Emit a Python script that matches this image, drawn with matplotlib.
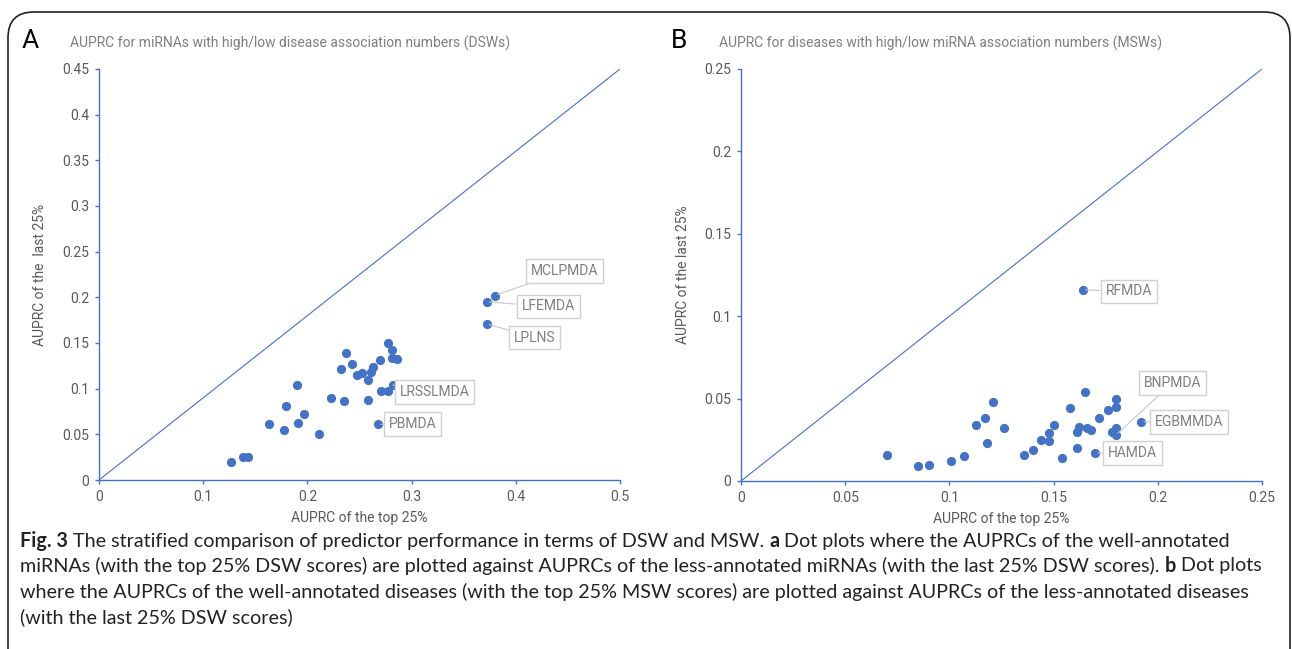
import matplotlib
matplotlib.use("Agg")
import matplotlib.pyplot as plt
from matplotlib import font_manager
from matplotlib.patches import FancyBboxPatch

plt.rcParams['font.family'] = ['Roboto', 'DejaVu Sans']

# Panel A: AUPRC of miRNAs, top 25% vs last 25% DSW
a_top = [0.127, 0.138, 0.143, 0.163, 0.178, 0.179, 0.190, 0.191, 0.197, 0.211,
         0.223, 0.232, 0.237, 0.235, 0.243, 0.248, 0.252, 0.258, 0.261, 0.263,
         0.258, 0.270, 0.277, 0.281, 0.281, 0.286, 0.271, 0.277,
         0.282, 0.268, 0.380, 0.372, 0.372]
a_last = [0.020, 0.025, 0.025, 0.061, 0.055, 0.081, 0.104, 0.062, 0.072, 0.050,
          0.090, 0.121, 0.139, 0.087, 0.127, 0.115, 0.117, 0.109, 0.118, 0.124,
          0.088, 0.131, 0.150, 0.142, 0.134, 0.132, 0.097, 0.097,
          0.104, 0.061, 0.202, 0.195, 0.171]
a_names = [""] * 28 + ["LRSSLMDA", "PBMDA", "MCLPMDA", "LFEMDA", "LPLNS"]

# Panel B: AUPRC of diseases, top 25% vs last 25% MSW
b_top = [0.070, 0.085, 0.090, 0.101, 0.107, 0.113, 0.117, 0.118, 0.121, 0.126,
         0.136, 0.140, 0.144, 0.148, 0.148, 0.150, 0.154, 0.158, 0.161, 0.161,
         0.162, 0.165, 0.166, 0.168, 0.172, 0.176, 0.178, 0.180, 0.180,
         0.180, 0.170, 0.180, 0.192, 0.164]
b_last = [0.016, 0.009, 0.010, 0.012, 0.015, 0.034, 0.038, 0.023, 0.048, 0.032,
          0.016, 0.019, 0.025, 0.029, 0.024, 0.034, 0.014, 0.044, 0.030, 0.020,
          0.033, 0.054, 0.032, 0.031, 0.038, 0.043, 0.030, 0.050, 0.045,
          0.032, 0.017, 0.028, 0.036, 0.116]
b_names = [""] * 30 + ["HAMDA", "BNPMDA", "EGBMMDA", "RFMDA"]

# where the label boxes sit (data coords)
a_label_pos = {"MCLPMDA": (0.447, 0.229), "LFEMDA": (0.431, 0.190), "LPLNS": (0.418, 0.156),
               "LRSSLMDA": (0.322, 0.096), "PBMDA": (0.301, 0.061)}
b_label_pos = {"RFMDA": (0.186, 0.115), "BNPMDA": (0.207, 0.0595), "EGBMMDA": (0.215, 0.036),
               "HAMDA": (0.188, 0.017)}

BLUE = "#4472C4"
GRAY = "#595959"
W, H = 1292, 649

# narrow font for title / caption if there is one
try:
    font_manager.findfont(font_manager.FontProperties(family="Liberation Sans Narrow"),
                          fallback_to_default=False)
    NARROW = ["Liberation Sans Narrow", "DejaVu Sans"]
    have_narrow = True
except Exception:
    NARROW = ["Roboto", "DejaVu Sans"]
    have_narrow = False

fig = plt.figure(figsize=(W / 100, H / 100), dpi=100)
renderer = fig.canvas.get_renderer()


def fx(px):
    return px / W


def fy(py):
    return 1 - py / H


# outer rounded frame
frame = FancyBboxPatch((fx(8), fy(700)), fx(1282), (700 - 12) / H,
                       boxstyle="round,pad=0,rounding_size=0.02", transform=fig.transFigure,
                       fc="none", ec="#222222", lw=1.2, mutation_aspect=W / H)
fig.patches.append(frame)


def panel(rect, xs, ys, names, label_pos, xmax, ymax, xstep, ystep, ylabel, ylab_x):
    ax = fig.add_axes(rect)
    ax.plot([0, xmax], [0, ymax], color=BLUE, lw=0.8, zorder=1)
    ax.scatter(xs, ys, s=44, color=BLUE, zorder=3, linewidths=0)
    for x, y, n in zip(xs, ys, names):
        if n:
            ax.annotate(n, xy=(x, y), xytext=label_pos[n], ha="center", va="center",
                        fontsize=10, color="#7f7f7f",
                        bbox=dict(boxstyle="square,pad=0.35", fc="white", ec="#d0d0d0", lw=1),
                        arrowprops=dict(arrowstyle="-", color="#c8c8c8", lw=0.8,
                                        shrinkA=0, shrinkB=2), zorder=4)
    ax.set_xlim(0, xmax)
    ax.set_ylim(0, ymax)
    nx = int(round(xmax / xstep))
    ny = int(round(ymax / ystep))
    ax.set_xticks([i * xstep for i in range(nx + 1)])
    ax.set_yticks([i * ystep for i in range(ny + 1)])
    ax.set_xticklabels(["{:g}".format(round(i * xstep, 3)) for i in range(nx + 1)])
    ax.set_yticklabels(["{:g}".format(round(i * ystep, 3)) for i in range(ny + 1)])
    for s in ["top", "right"]:
        ax.spines[s].set_visible(False)
    for s in ["left", "bottom"]:
        ax.spines[s].set_color(BLUE)
        ax.spines[s].set_linewidth(1)
    ax.tick_params(colors=BLUE, labelcolor=GRAY, labelsize=10, length=3, width=1, pad=4)
    ax.set_xlabel("AUPRC of the top 25%", color=GRAY, fontsize=10)
    ax.set_ylabel(ylabel, color=GRAY, fontsize=10)
    ax.xaxis.set_label_coords(0.5, -0.075)
    ax.yaxis.set_label_coords(ylab_x, 0.5)
    return ax


panel([fx(99), fy(480), fx(521), 411 / H], a_top, a_last, a_names, a_label_pos,
      0.5, 0.45, 0.1, 0.05, "AUPRC of the  last 25%", -0.1)
panel([fx(741), fy(481), fx(521), 412 / H], b_top, b_last, b_names, b_label_pos,
      0.25, 0.25, 0.05, 0.05, "AUPRC of the last 25%", -0.098)


def title_text(x, y, s, width):
    t = fig.text(fx(x), fy(y), s, fontsize=11, color="#7f7f7f", va="center", family=NARROW)
    if have_narrow:
        w = t.get_window_extent(renderer).width
        t.set_fontsize(11 * width / w)
    else:
        t.set_fontsize(10)
    return t


fig.text(fx(22), fy(41), "A", fontsize=19, color="black", va="center")
fig.text(fx(671), fy(41), "B", fontsize=19, color="black", va="center")
title_text(70, 43, "AUPRC for miRNAs with high/low disease association numbers (DSWs)", 387)
title_text(719, 43, "AUPRC for diseases with high/low miRNA association numbers (MSWs)", 404)

# caption
cap_lines = [
    [("Fig. 3", "bold"),
     (" The stratified comparison of predictor performance in terms of DSW and MSW. ", "normal"),
     ("a", "bold"), (" Dot plots where the AUPRCs of the well-annotated", "normal")],
    [("miRNAs (with the top 25% DSW scores) are plotted against AUPRCs of the less-annotated "
      "miRNAs (with the last 25% DSW scores). ", "normal"), ("b", "bold"), (" Dot plots", "normal")],
    [("where the AUPRCs of the well-annotated diseases (with the top 25% MSW scores) are plotted "
      "against AUPRCs of the less-annotated diseases", "normal")],
    [("(with the last 25% DSW scores)", "normal")],
]
cap_y = [541, 566, 592, 617]
cap_width = 1207
cap_family = NARROW if have_narrow else ["Lato", "DejaVu Sans"]


def draw_runs(runs, y, size):
    x = 20
    items = []
    for s, wt in runs:
        t = fig.text(fx(x), fy(y), s, fontsize=size, fontweight=wt, color="#222222",
                     va="center", family=cap_family)
        w = t.get_window_extent(renderer).width
        items.append(t)
        x += w
    return items, x - 20


items, w0 = draw_runs(cap_lines[0], cap_y[0], 13)
for t in items:
    t.remove()
cap_size = 13 * cap_width / w0
for runs, y in zip(cap_lines, cap_y):
    draw_runs(runs, y, cap_size)

fig.savefig("out.png", dpi=100)
